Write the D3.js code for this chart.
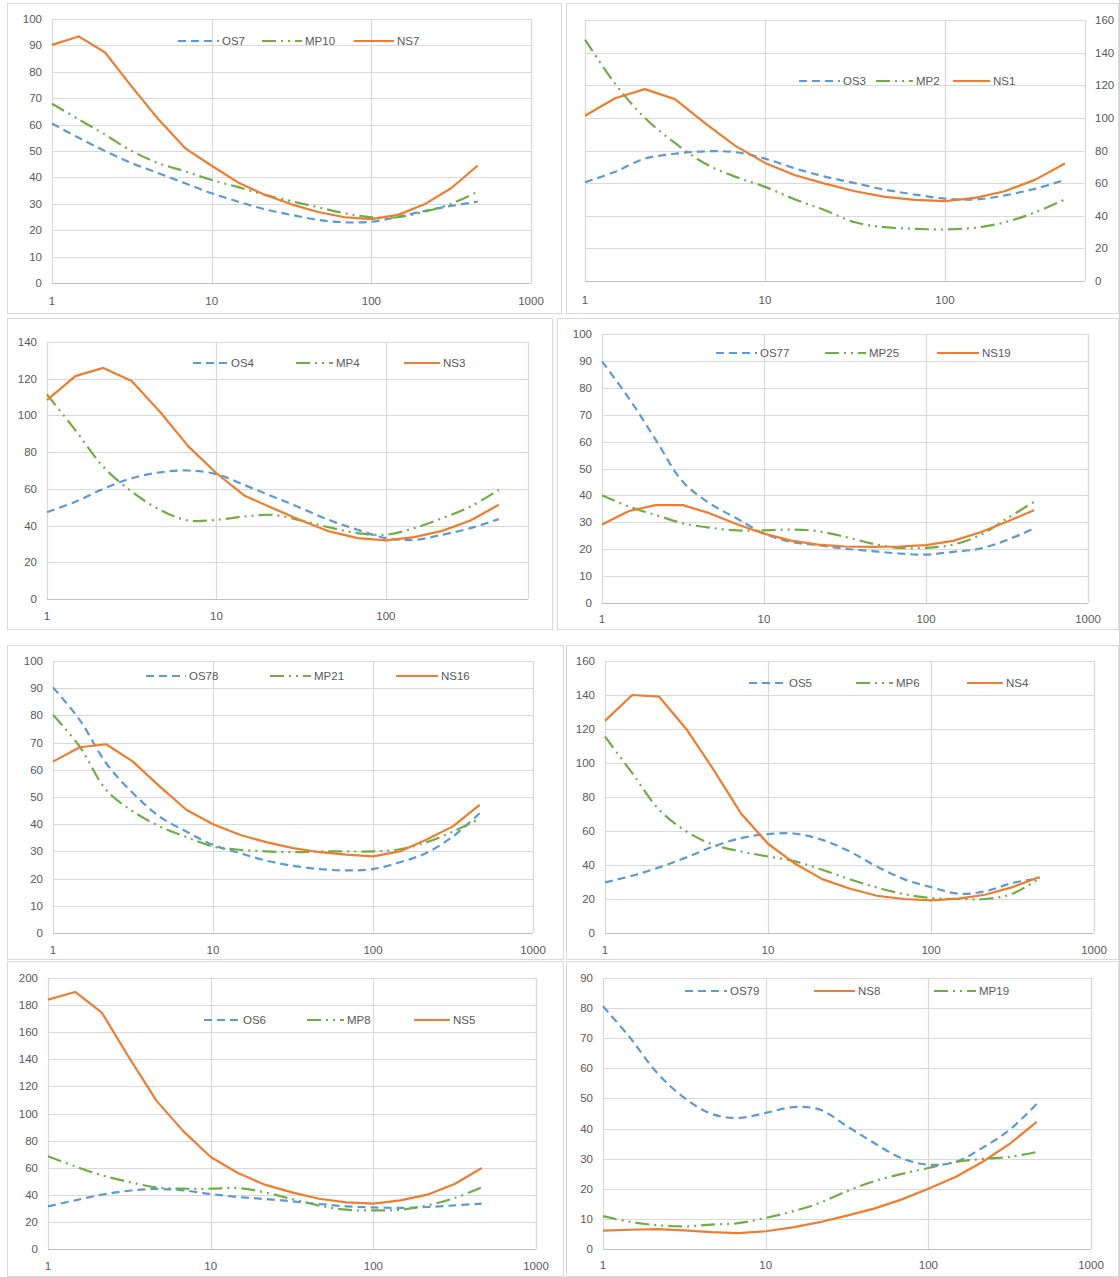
<!DOCTYPE html>
<meta charset="UTF-8">
<title>OS / MP / NS curves</title>
<style>
  body { margin: 0; background: #fff; }
  text { font-family: "Liberation Sans", Arial, sans-serif; fill: #595959; }
</style>
<svg width="1119" height="1277"></svg>
<script src="https://d3js.org/d3.v7.min.js"></script>
<script>
// shared x positions (log axis)
var xs = [1, 1.47, 2.15, 3.16, 4.64, 6.81, 10, 14.7, 21.5, 31.6, 46.4, 68.1, 100, 147, 215, 316, 464];

var os7  = [60.4, 55, 50, 45.4, 41.6, 37.8, 34, 30.8, 27.9, 25.8, 23.9, 23, 23.2, 25.1, 27.3, 29.2, 30.8];
var mp10 = [67.9, 62, 56.2, 50, 45.4, 42.3, 39, 36.3, 33.4, 31, 28.7, 26.4, 24.9, 24.9, 27, 30, 34.6];
var ns7  = [90.2, 93.4, 87.3, 74.4, 62, 51.1, 44.4, 38, 33.4, 29.8, 26.9, 24.9, 24.2, 25.8, 29.8, 35.9, 44.5];

var os3 = [60.5, 67, 75, 78, 79.5, 79, 75, 69, 64, 60, 56, 53, 50.5, 50, 52.5, 56.5, 62];
var mp2 = [148, 121, 100, 84.6, 72, 64, 57.7, 50, 43.4, 36, 33, 32, 31.6, 32.6, 36, 42, 50];
var ns1 = [101.3, 112, 117.6, 111.5, 96.8, 83, 72.4, 64.8, 59.7, 55, 51.6, 49.7, 49, 51, 55, 62, 72];

var os4 = [47.3, 53, 60, 65.8, 69, 70, 68, 62, 55.8, 49.5, 43, 37.7, 33.2, 32.2, 35, 38.6, 43.5];
var mp4 = [111.4, 92, 72, 58.5, 48.6, 42.8, 43.1, 45, 45.8, 42.8, 39, 35.9, 35, 38.6, 44, 50.4, 59.4];
var ns3 = [108.3, 121.4, 125.9, 118.7, 102, 83.3, 68.5, 56.2, 49.5, 42.8, 36.8, 33.2, 31.9, 33.7, 37.1, 42.8, 51.3];

var os77 = [89.8, 76, 60.6, 45, 37, 31.4, 25.8, 22.7, 21.5, 20.2, 19.3, 18.4, 18, 19, 20.2, 23.4, 27.7];
var mp25 = [40.1, 35.8, 32.7, 29.6, 28, 27, 27, 27.3, 26.7, 24.6, 22.1, 20.5, 20.5, 21.7, 25.2, 31.4, 37.6];
var ns19 = [29.2, 34.2, 36.4, 36.4, 33.3, 29.3, 25.8, 23.2, 21.7, 21, 20.9, 21, 21.5, 23.1, 26.2, 30.2, 34.5];

var os78 = [90.3, 78.3, 62.4, 51.4, 42.8, 37.3, 32.4, 29.4, 26.6, 24.7, 23.5, 23, 23.5, 26, 29.4, 35.5, 44];
var mp21 = [80.2, 68.5, 52.6, 44.7, 39.2, 35.3, 31.8, 30.6, 30, 29.7, 30, 30, 30, 30.8, 33.3, 37.3, 42];
var ns16 = [63, 68.3, 69.4, 63, 53.9, 45.3, 40, 36.1, 33.4, 31.2, 29.7, 28.8, 28.2, 30, 34.3, 39.2, 47.1];

var os5 = [29.8, 33.7, 38.6, 44.5, 50.9, 55.8, 58.2, 58.4, 54.8, 48, 39.2, 31.7, 27, 23.1, 24.5, 29.4, 32.3];
var mp6 = [115.5, 94, 72.5, 59.7, 51.9, 48, 45, 42.1, 37.2, 31.7, 26.8, 22.9, 20.6, 20, 20, 23.1, 32.3];
var ns4 = [124.8, 140, 139, 119.9, 96, 70.5, 52.5, 40.7, 31.7, 26.2, 21.9, 20, 19.2, 20.2, 22.5, 27, 32.9];

var os6 = [31.5, 35.9, 40.1, 43, 44.3, 43.3, 40.6, 38.4, 36.9, 35.2, 33.2, 31.5, 30.7, 30.3, 31, 32.2, 33.5];
var mp8 = [68.4, 61, 54.4, 49.4, 45.5, 44.5, 44.5, 45, 41.8, 36.9, 32, 29, 28.5, 29, 32.2, 37.6, 45.5];
var ns5 = [184, 189.7, 174.2, 141, 109.5, 86.8, 67.9, 56.1, 47.5, 41.8, 37.1, 34.4, 33.5, 35.9, 40.1, 48, 59.8];

var os79 = [80.6, 70.1, 58.5, 50.2, 44.9, 43.5, 45.2, 47.1, 46.3, 40.8, 35.2, 30.2, 28, 28.9, 33.6, 39.6, 48.2];
var ns8  = [6.1, 6.4, 6.6, 6.2, 5.6, 5.3, 5.9, 7.2, 8.9, 11.1, 13.4, 16.4, 20, 23.9, 28.9, 34.9, 42.2];
var mp19 = [10.9, 9, 7.9, 7.5, 8.1, 8.6, 10.3, 12.5, 15.3, 19.2, 22.5, 24.9, 26.9, 28.9, 29.9, 30.6, 32.2];

var styles = {
  os: {color: "#5b9bd5", dash: "8,5", curve: d3.curveCatmullRom},
  mp: {color: "#70ad47", dash: "14,5,2,5,2,5", curve: d3.curveCatmullRom},
  ns: {color: "#ed7d31", dash: null, curve: d3.curveLinear}
};

// layout of the eight panels
var panels = [
  {box: [7, 3, 562, 314], xr: [52, 531], xMax: 1000, yr: [283, 19], yMax: 100, yStep: 10, right: false, xLab: 301,
   series: [["OS7", os7, "os"], ["MP10", mp10, "mp"], ["NS7", ns7, "ns"]], ly: 41, leg: [[178, 222], [262, 305], [354, 397]]},
  {box: [566, 3, 1119, 314], xr: [585, 1085], xMax: 600, yr: [281, 20], yMax: 160, yStep: 20, right: true, xLab: 300,
   series: [["OS3", os3, "os"], ["MP2", mp2, "mp"], ["NS1", ns1, "ns"]], ly: 81, leg: [[799, 843], [876, 916], [953, 993]]},
  {box: [7, 318, 553, 630], xr: [47, 528], xMax: 690, yr: [599, 342], yMax: 140, yStep: 20, right: false, xLab: 616,
   series: [["OS4", os4, "os"], ["MP4", mp4, "mp"], ["NS3", ns3, "ns"]], ly: 363, leg: [[193, 231], [296, 336], [404, 443]]},
  {box: [557, 318, 1119, 630], xr: [602, 1088], xMax: 1000, yr: [603, 334], yMax: 100, yStep: 10, right: false, xLab: 619,
   series: [["OS77", os77, "os"], ["MP25", mp25, "mp"], ["NS19", ns19, "ns"]], ly: 353, leg: [[716, 760], [825, 869], [937, 982]]},
  {box: [7, 645, 564, 960], xr: [53, 533], xMax: 1000, yr: [933, 661], yMax: 100, yStep: 10, right: false, xLab: 950,
   series: [["OS78", os78, "os"], ["MP21", mp21, "mp"], ["NS16", ns16, "ns"]], ly: 676, leg: [[146, 189], [270, 314], [396, 441]]},
  {box: [566, 645, 1119, 960], xr: [605, 1094], xMax: 1000, yr: [933, 661], yMax: 160, yStep: 20, right: false, xLab: 950,
   series: [["OS5", os5, "os"], ["MP6", mp6, "mp"], ["NS4", ns4, "ns"]], ly: 683, leg: [[749, 789], [856, 896], [967, 1006]]},
  {box: [7, 961, 564, 1277], xr: [48, 536], xMax: 1000, yr: [1249, 978], yMax: 200, yStep: 20, right: false, xLab: 1266,
   series: [["OS6", os6, "os"], ["MP8", mp8, "mp"], ["NS5", ns5, "ns"]], ly: 1020, leg: [[204, 243], [307, 347], [414, 453]]},
  {box: [566, 961, 1119, 1277], xr: [603, 1091], xMax: 1000, yr: [1249, 978], yMax: 90, yStep: 10, right: false, xLab: 1265,
   series: [["OS79", os79, "os"], ["NS8", ns8, "ns"], ["MP19", mp19, "mp"]], ly: 991, leg: [[685, 730], [814, 858], [934, 979]]}
];

var svg = d3.select("svg");

panels.forEach(function(p) {
  var g = svg.append("g");

  g.append("rect")
      .attr("x", p.box[0] + 0.5).attr("y", p.box[1] + 0.5)
      .attr("width", p.box[2] - p.box[0] - 1).attr("height", p.box[3] - p.box[1] - 1)
      .attr("fill", "#fff").attr("stroke", "#d9d9d9");

  var x = d3.scaleLog().domain([1, p.xMax]).range(p.xr);
  var y = d3.scaleLinear().domain([0, p.yMax]).range(p.yr);
  var yTicks = d3.range(0, p.yMax + 0.01, p.yStep);
  var xTicks = [1, 10, 100, 1000].filter(function(v) { return v <= p.xMax; });

  // gridlines
  g.append("g").selectAll("line").data(yTicks).join("line")
      .attr("x1", p.xr[0]).attr("x2", p.xr[1])
      .attr("y1", function(d) { return Math.round(y(d)) + 0.5; })
      .attr("y2", function(d) { return Math.round(y(d)) + 0.5; })
      .attr("stroke", "#d9d9d9").attr("stroke-width", 1.2);
  g.append("g").selectAll("line").data(xTicks.concat([p.xMax])).join("line")
      .attr("x1", function(d) { return Math.round(x(d)) + 0.5; })
      .attr("x2", function(d) { return Math.round(x(d)) + 0.5; })
      .attr("y1", p.yr[0]).attr("y2", p.yr[1])
      .attr("stroke", "#d9d9d9").attr("stroke-width", 1.2);
  g.append("line")
      .attr("x1", p.xr[0]).attr("x2", p.xr[1])
      .attr("y1", Math.round(p.yr[0]) + 0.5).attr("y2", Math.round(p.yr[0]) + 0.5)
      .attr("stroke", "#bfbfbf").attr("stroke-width", 1.2);

  // y labels
  g.append("g").selectAll("text").data(yTicks).join("text")
      .attr("x", p.right ? p.xr[1] + 10 : p.xr[0] - 10)
      .attr("y", function(d) { return y(d); })
      .attr("dy", "0.35em")
      .attr("text-anchor", p.right ? "start" : "end")
      .style("font-size", "11.5px")
      .text(function(d) { return d; });

  // x labels
  g.append("g").selectAll("text").data(xTicks).join("text")
      .attr("x", function(d) { return x(d); })
      .attr("y", p.xLab)
      .attr("dy", "0.35em")
      .attr("text-anchor", "middle")
      .style("font-size", "11.5px")
      .text(function(d) { return d; });

  // series
  p.series.forEach(function(s) {
    var st = styles[s[2]];
    var line = d3.line()
        .curve(st.curve)
        .x(function(d, i) { return x(xs[i]); })
        .y(function(d) { return y(d); });
    g.append("path")
        .datum(s[1])
        .attr("fill", "none")
        .attr("stroke", st.color)
        .attr("stroke-width", 2.2)
        .attr("stroke-dasharray", st.dash)
        .attr("stroke-linejoin", "round")
        .attr("d", line);
  });

  // legend
  p.series.forEach(function(s, i) {
    var st = styles[s[2]];
    var lx = p.leg[i][0], tx = p.leg[i][1];
    g.append("line")
        .attr("x1", lx).attr("x2", tx - 3)
        .attr("y1", p.ly).attr("y2", p.ly)
        .attr("stroke", st.color)
        .attr("stroke-width", 2.2)
        .attr("stroke-dasharray", st.dash);
    g.append("text")
        .attr("x", tx).attr("y", p.ly)
        .attr("dy", "0.35em")
        .style("font-size", "11.5px")
        .text(s[0]);
  });
});
</script>
